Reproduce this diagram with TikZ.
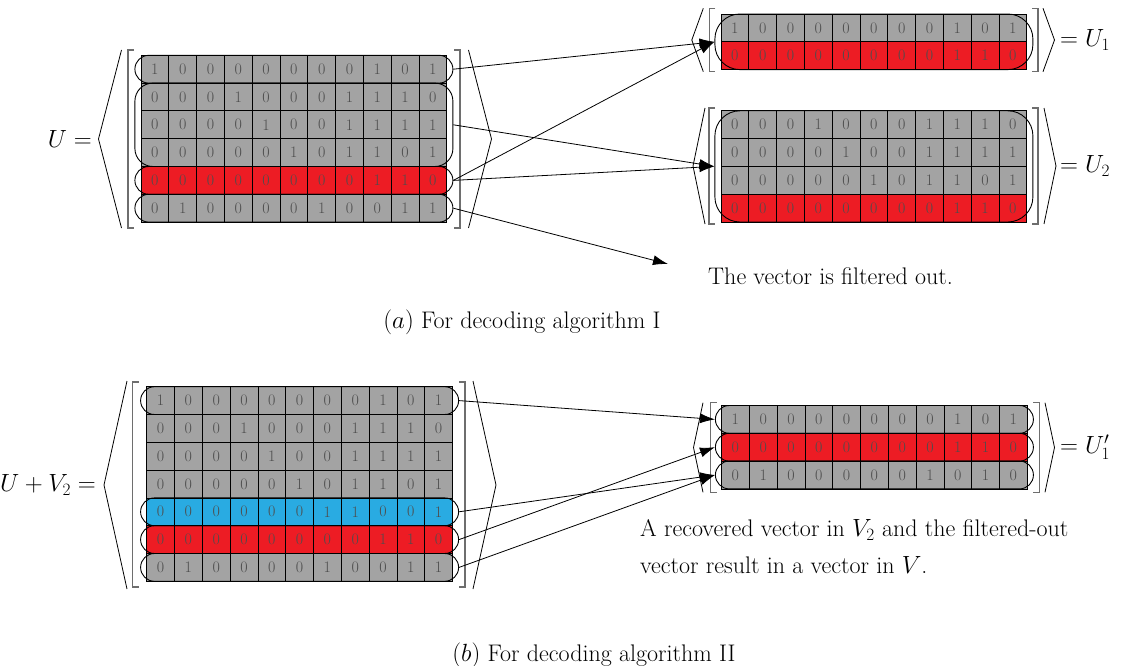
\documentclass[tikz,border=0pt]{standalone}
\usetikzlibrary{arrows.meta}

\definecolor{cellgray}{HTML}{A3A3A3}
\definecolor{cellred}{HTML}{ED1C24}
\definecolor{cellblue}{HTML}{29ABE2}
\definecolor{digit}{HTML}{4D4D4D}
\definecolor{brgray}{HTML}{6E6E6E}

% one row of bits: name, left x, top y, fill, bits
\newcommand{\bitrow}[5]{%
  \foreach \b [count=\i] in {#5} {
    \node[bit, fill=#4] (#1-\i) at ({#2+(\i-0.5)*27.8}, {#3+13.9}) {\b};
  }
}
% square brackets: left x, right x, top, bottom
\newcommand{\sqbrackets}[4]{%
  \draw[sqbr] ({#1+6},#3) -- (#1,#3) -- (#1,#4) -- ({#1+6},#4);
  \draw[sqbr] ({#2-6},#3) -- (#2,#3) -- (#2,#4) -- ({#2-6},#4);
}
% angle brackets: left x, right x, top, bottom, depth
\newcommand{\anglebrackets}[5]{%
  \draw[angbr] (#1,#3) -- ({#1-#5},{(#3+#4)/2}) -- (#1,#4);
  \draw[angbr] (#2,#3) -- ({#2+#5},{(#3+#4)/2}) -- (#2,#4);
}

\begin{document}
\begin{tikzpicture}[x=1pt, y=-1pt,
  bit/.style = {draw=black, line width=0.8pt, minimum size=27.8pt, inner sep=0pt, text=digit, font=\fontsize{16}{16}\selectfont},
  hull/.style = {draw, line width=0.9pt, minimum width=318pt, minimum height=#1, inner sep=0pt},
  sqbr/.style = {brgray, line width=1.2pt},
  angbr/.style = {black, line width=0.8pt},
  arr/.style = {-{Latex[length=15pt, width=10pt]}, line width=0.8pt},
  lab/.style = {font=\fontsize{24}{28}\selectfont, inner sep=0pt}]

\useasboundingbox (0,0) rectangle (1125,666);

% U
\bitrow{u1}{141}{55.3}{cellgray}{1,0,0,0,0,0,0,0,1,0,1}
\bitrow{u2}{141}{83.1}{cellgray}{0,0,0,1,0,0,0,1,1,1,0}
\bitrow{u3}{141}{110.9}{cellgray}{0,0,0,0,1,0,0,1,1,1,1}
\bitrow{u4}{141}{138.7}{cellgray}{0,0,0,0,0,1,0,1,1,0,1}
\bitrow{u5}{141}{166.5}{cellred}{0,0,0,0,0,0,0,0,1,1,0}
\bitrow{u6}{141}{194.3}{cellgray}{0,1,0,0,0,0,1,0,0,1,1}

\node[hull=27.8pt, rounded corners=13.9pt] (ou1) at (293.9,69.2) {};
\node[hull=83.4pt, rounded corners=18pt] (ou24) at (293.9,124.8) {};
\node[hull=27.8pt, rounded corners=13.9pt] (ou5) at (293.9,180.4) {};
\node[hull=27.8pt, rounded corners=13.9pt] (ou6) at (293.9,208.2) {};

\sqbrackets{128}{460}{50}{228}
\anglebrackets{121.5}{468.5}{50}{228}{23}
\node[lab, anchor=east] (U) at (92,139) {$U=$};

% U_1
\bitrow{p1}{721}{14}{cellgray}{1,0,0,0,0,0,0,0,1,0,1}
\bitrow{p2}{721}{41.8}{cellred}{0,0,0,0,0,0,0,0,1,1,0}
\node[hull=55.6pt, rounded corners=25pt] (op) at (873.9,41.8) {};
\sqbrackets{709.3}{1038}{8.3}{71.7}
\anglebrackets{703.3}{1043}{8.3}{71.7}{11.5}
\node[lab, anchor=west] (U1) at (1060,40) {$=U_1$};

% U_2
\bitrow{q1}{721}{110.8}{cellgray}{0,0,0,1,0,0,0,1,1,1,0}
\bitrow{q2}{721}{138.6}{cellgray}{0,0,0,0,1,0,0,1,1,1,1}
\bitrow{q3}{721}{166.4}{cellgray}{0,0,0,0,0,1,0,1,1,0,1}
\bitrow{q4}{721}{194.2}{cellred}{0,0,0,0,0,0,0,0,1,1,0}
\node[hull=111.2pt, rounded corners=25pt] (oq) at (873.9,166.4) {};
\sqbrackets{709}{1038}{108}{224}
\anglebrackets{705}{1044}{108}{224}{12}
\node[lab, anchor=west] (U2) at (1060,166) {$=U_2$};

\node[lab, anchor=west] (out) at (708,276) {The vector is filtered out.};
\coordinate (outtip) at (668,264);

% Arrows
\draw[arr] (ou1.east) -- (op.west);
\draw[arr] (ou5.east) -- (op.west);
\draw[arr] (ou24.east) -- (oq.west);
\draw[arr] (ou5.east) -- (oq.west);
\draw[arr] (ou6.east) -- (outtip);

\node[lab] (capa) at (522,322) {$(a)$ For decoding algorithm I};

% U + V_2
\bitrow{w1}{146.7}{386.7}{cellgray}{1,0,0,0,0,0,0,0,1,0,1}
\bitrow{w2}{146.7}{414.5}{cellgray}{0,0,0,1,0,0,0,1,1,1,0}
\bitrow{w3}{146.7}{442.3}{cellgray}{0,0,0,0,1,0,0,1,1,1,1}
\bitrow{w4}{146.7}{470.1}{cellgray}{0,0,0,0,0,1,0,1,1,0,1}
\bitrow{w5}{146.7}{497.9}{cellblue}{0,0,0,0,0,0,1,1,0,0,1}
\bitrow{w6}{146.7}{525.7}{cellred}{0,0,0,0,0,0,0,0,1,1,0}
\bitrow{w7}{146.7}{553.5}{cellgray}{0,1,0,0,0,0,1,0,0,1,1}

\node[hull=27.8pt, rounded corners=13.9pt] (ow1) at (299.6,400.6) {};
\node[hull=27.8pt, rounded corners=13.9pt] (ow5) at (299.6,511.8) {};
\node[hull=27.8pt, rounded corners=13.9pt] (ow6) at (299.6,539.6) {};
\node[hull=27.8pt, rounded corners=13.9pt] (ow7) at (299.6,567.4) {};

\sqbrackets{132.7}{465}{382}{587}
\anglebrackets{127}{473}{381}{589}{23}
\node[lab, anchor=east] (UV) at (96,485) {$U+V_2=$};

% U_1'
\bitrow{r1}{721.5}{405.5}{cellgray}{1,0,0,0,0,0,0,0,1,0,1}
\bitrow{r2}{721.5}{433.3}{cellred}{0,0,0,0,0,0,0,0,1,1,0}
\bitrow{r3}{721.5}{461.1}{cellgray}{0,1,0,0,0,0,0,1,0,1,0}
\node[hull=27.8pt, rounded corners=13.9pt] (or1) at (874.4,419.4) {};
\node[hull=27.8pt, rounded corners=13.9pt] (or2) at (874.4,447.2) {};
\node[hull=27.8pt, rounded corners=13.9pt] (or3) at (874.4,475) {};
\sqbrackets{710.7}{1039.3}{402.7}{492.3}
\anglebrackets{703}{1045}{402.7}{492.3}{9.5}
\node[lab, anchor=west] (U1p) at (1060,447) {$=U'_1$};

\node[lab, anchor=base west] (note1) at (640,536.7) {A recovered vector in $V_2$ and the filtered-out};
\node[lab, anchor=base west] (note2) at (640,573) {vector result in a vector in $V$.};

% Arrows
\draw[arr] (ow1.east) -- (or1.west);
\draw[arr] (ow5.east) -- (or3.west);
\draw[arr] (ow6.east) -- (or2.west);
\draw[arr] (ow7.east) -- (or3.west);

\node[lab] (capb) at (594,655) {$(b)$ For decoding algorithm II};

\end{tikzpicture}
\end{document}
